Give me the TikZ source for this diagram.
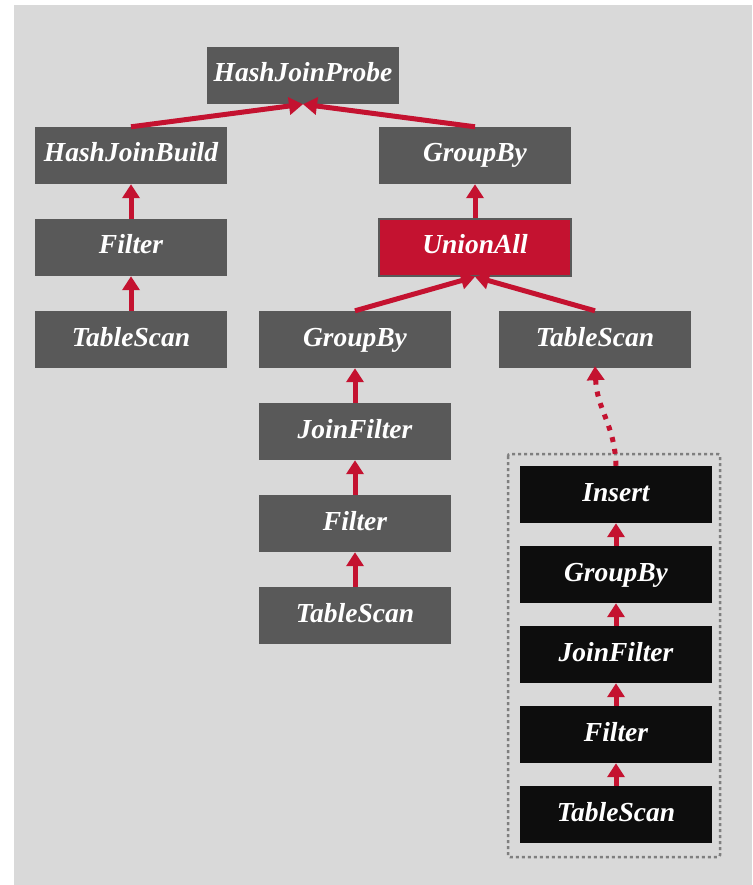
\documentclass[tikz,border=0pt]{standalone}
\usepackage{fontspec}
\setmainfont{Liberation Serif}
\usetikzlibrary{arrows.meta}
\definecolor{bgray}{HTML}{D9D9D9}
\definecolor{ngray}{HTML}{595959}
\definecolor{nblack}{HTML}{0D0D0D}
\definecolor{nred}{HTML}{C41230}
\definecolor{dotgray}{HTML}{7F7F7F}
\begin{document}
\begin{tikzpicture}[x=1pt,y=-1pt,
  opbox/.style={minimum width=192pt,minimum height=57pt,inner sep=0pt,text=white,
    text height=19pt,text depth=6pt,
    font=\bfseries\itshape\fontsize{27.5}{30}\selectfont},
  graybox/.style={opbox,fill=ngray},
  blackbox/.style={opbox,fill=nblack},
  redbox/.style={opbox,fill=nred,draw=ngray,line width=1.5pt},
  link/.style={draw=nred,line width=5pt,-{Triangle[width=17pt,length=14pt]}},
  dotlink/.style={draw=nred,line width=5pt,dash pattern=on 5pt off 7pt,-{Triangle[width=17pt,length=14pt]}},
  groupframe/.style={draw=dotgray,line width=2.5pt,dash pattern=on 3pt off 3pt,rounded corners=2pt}]
\useasboundingbox (0,0) rectangle (752,885);
\fill[white] (0,0) rectangle (752,885);
\fill[bgray] (14,5) rectangle (752,885);
\draw[groupframe] (508,454) rectangle (720,857);
% nodes
\node[graybox] (hjp) at (303,75.5) {HashJoinProbe};
\node[graybox] (hjb) at (131,155.5) {HashJoinBuild};
\node[graybox] (gb1) at (475,155.5) {GroupBy};
\node[graybox] (f1) at (131,247.5) {Filter};
\node[redbox] (ua) at (475,247.5) {UnionAll};
\node[graybox] (ts1) at (131,339.5) {TableScan};
\node[graybox] (gb2) at (355,339.5) {GroupBy};
\node[graybox] (ts2) at (595,339.5) {TableScan};
\node[graybox] (jf1) at (355,431.5) {JoinFilter};
\node[graybox] (f2) at (355,523.5) {Filter};
\node[graybox] (ts3) at (355,615.5) {TableScan};
\node[blackbox] (ins) at (616,494.5) {Insert};
\node[blackbox] (gb3) at (616,574.5) {GroupBy};
\node[blackbox] (jf2) at (616,654.5) {JoinFilter};
\node[blackbox] (f3) at (616,734.5) {Filter};
\node[blackbox] (ts4) at (616,814.5) {TableScan};
% connectors
\draw[link] (hjb.north) -- (hjp.south);
\draw[link] (gb1.north) -- (hjp.south);
\draw[link] (f1.north) -- (hjb.south);
\draw[link] (ts1.north) -- (f1.south);
\draw[link] (ua.north) -- (gb1.south);
\draw[link] (gb2.north) -- (ua.south);
\draw[link] (ts2.north) -- (ua.south);
\draw[link] (jf1.north) -- (gb2.south);
\draw[link] (f2.north) -- (jf1.south);
\draw[link] (ts3.north) -- (f2.south);
\draw[link] (gb3.north) -- (ins.south);
\draw[link] (jf2.north) -- (gb3.south);
\draw[link] (f3.north) -- (jf2.south);
\draw[link] (ts4.north) -- (f3.south);
\draw[dotlink] (ins.north) .. controls (615,425) and (597,410) .. ([yshift=2pt]ts2.south);
\end{tikzpicture}
\end{document}
